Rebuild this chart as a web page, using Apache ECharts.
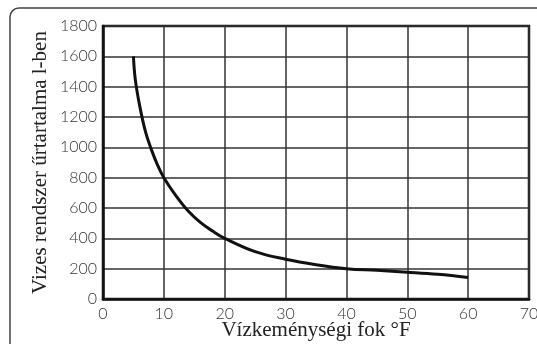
<!DOCTYPE html>
<html>
<head>
<meta charset="utf-8">
<script src="https://cdn.jsdelivr.net/npm/echarts@6/dist/echarts.min.js"></script>
<style>
html, body { margin: 0; padding: 0; background: #fff; }
#chart { width: 537px; height: 344px; }
</style>
</head>
<body>
<div id="chart"></div>
<script>
// curve: hardness (°F) -> volume (l)
const hardness = [5, 5.3, 6, 7, 8, 9, 10, 12, 14, 16, 18, 20, 25, 30, 35, 40, 45, 50, 55, 60];
const volume = [1600, 1450, 1280, 1100, 980, 880, 800, 680, 580, 505, 448, 400, 312, 262, 226, 200, 189, 177, 163, 142];

const xTitle = 'Vízkeménységi fok °F';
const yTitle = 'Vizes rendszer űrtartalma l-ben';

const chart = echarts.init(document.getElementById('chart'));

const gridLine = { show: true, lineStyle: { color: '#333', width: 1.5 } };
const tickFont = { fontFamily: 'Lato', fontWeight: 300, fontSize: 16, color: '#333' };
const titleFont = { fontFamily: 'Liberation Serif', fontSize: 21, color: '#222' };

chart.setOption({
    animation: false,
    graphic: [{
        type: 'rect',
        shape: { x: 10, y: 8, width: 600, height: 400, r: 9 },
        style: { fill: 'none', stroke: '#444', lineWidth: 1.5 }
    }],
    grid: {
        left: 103, right: 8, top: 26, bottom: 45,
        outerBoundsMode: 'none',
        containLabel: false,
        show: true, borderColor: '#111', borderWidth: 2.5
    },
    xAxis: {
        type: 'value',
        min: 0, max: 70, interval: 10,
        name: xTitle,
        nameLocation: 'middle',
        nameGap: 21,
        nameMoveOverlap: false,
        nameTextStyle: titleFont,
        axisLine: { show: true, lineStyle: { color: '#111', width: 2.5 } },
        axisTick: { show: false },
        axisLabel: Object.assign({ margin: 7, formatter: v => String(v) }, tickFont),
        splitLine: gridLine
    },
    yAxis: {
        type: 'value',
        min: 0, max: 1800, interval: 200,
        name: yTitle,
        nameLocation: 'middle',
        nameGap: 52,
        nameMoveOverlap: false,
        nameTextStyle: titleFont,
        axisLine: { show: true, lineStyle: { color: '#111', width: 2.5 } },
        axisTick: { show: false },
        axisLabel: Object.assign({ margin: 6, formatter: v => String(v) }, tickFont),
        splitLine: gridLine
    },
    series: [{
        type: 'line',
        data: hardness.map((h, i) => [h, volume[i]]),
        smooth: 0.4,
        showSymbol: false,
        lineStyle: { color: '#111', width: 3 }
    }]
});
</script>
</body>
</html>
